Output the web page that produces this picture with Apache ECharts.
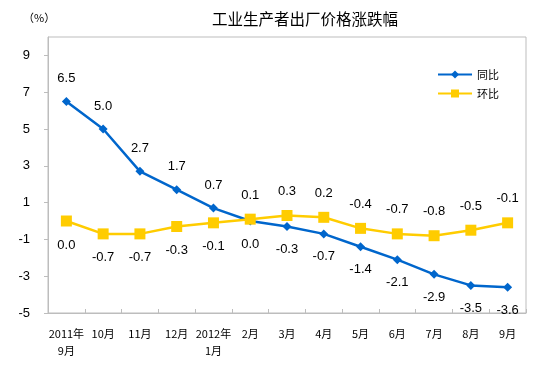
<!DOCTYPE html>
<html><head><meta charset="utf-8">
<script src="https://cdn.jsdelivr.net/npm/echarts@6/dist/echarts.min.js"></script>
<style>html,body{margin:0;padding:0;background:#fff}#c{width:554px;height:372px}</style>
</head><body><div id="c"></div>
<script>
const categories = ['2011年\n9月','10月','11月','12月','2012年\n1月','2月','3月','4月','5月','6月','7月','8月','9月'];
const yoy = [6.5, 5.0, 2.7, 1.7, 0.7, 0.0, -0.3, -0.7, -1.4, -2.1, -2.9, -3.5, -3.6];
const mom = [0.0, -0.7, -0.7, -0.3, -0.1, 0.1, 0.3, 0.2, -0.4, -0.7, -0.8, -0.5, -0.1];
const yoyAbove = [true, true, true, true, true, false, false, false, false, false, false, false, false];

const font = 'Liberation Sans, Arial, "Noto Sans CJK SC", sans-serif';
const chart = echarts.init(document.getElementById('c'), null, {renderer: 'canvas'});
chart.setOption({
  animation: false,
  backgroundColor: '#fff',
  textStyle: {fontFamily: font},
  title: [
    {text: '工业生产者出厂价格涨跌幅', left: 207, top: 6,
     textStyle: {fontSize: 15.5, fontWeight: 'normal', color: '#000', fontFamily: '"Noto Sans CJK SC", sans-serif'}},
    {text: '（%）', left: 18, top: 7,
     textStyle: {fontSize: 11, fontWeight: 'normal', color: '#000', fontFamily: '"Noto Sans CJK SC", sans-serif'}}
  ],
  legend: {
    orient: 'vertical', right: 50, top: 64, itemGap: 8, itemWidth: 34, itemHeight: 10,
    textStyle: {fontSize: 11, color: '#000', fontFamily: '"Noto Sans CJK SC", sans-serif'},
    data: ['同比', '环比']
  },
  grid: {left: 48, right: 28, top: 37, bottom: 59, show: true, borderColor: '#bdbdbd', borderWidth: 1, containLabel: false},
  xAxis: {
    type: 'category', data: categories, boundaryGap: true,
    axisLine: {onZero: false, lineStyle: {color: '#bdbdbd'}},
    axisTick: {show: true, inside: true, length: 4, lineStyle: {color: '#bdbdbd'}},
    axisLabel: {color: '#000', fontSize: 11, margin: 12, interval: 0, lineHeight: 17, fontFamily: '"Noto Sans CJK SC", sans-serif'}
  },
  yAxis: {
    type: 'value', min: -5, max: 10, interval: 2,
    axisLine: {show: true, lineStyle: {color: '#bdbdbd'}},
    axisTick: {show: true, length: 4, lineStyle: {color: '#bdbdbd'}},
    splitLine: {show: false},
    axisLabel: {color: '#000', fontSize: 13, margin: 18, showMaxLabel: false, fontFamily: font}
  },
  series: [
    {
      name: '同比', type: 'line', data: yoy.map((v, i) => ({value: v, label: {position: yoyAbove[i] ? 'top' : 'bottom'}})),
      symbol: 'diamond', symbolSize: 9, color: '#0066CC',
      lineStyle: {width: 2.5, color: '#0066CC'}, itemStyle: {color: '#0066CC'},
      label: {show: true, distance: 12, color: '#000', fontSize: 13, fontFamily: font, formatter: p => p.value.toFixed(1)}
    },
    {
      name: '环比', type: 'line', data: mom.map((v, i) => ({value: v, label: {position: yoyAbove[i] ? 'bottom' : 'top'}})),
      symbol: 'rect', symbolSize: 11, color: '#FFCC00',
      lineStyle: {width: 2.5, color: '#FFCC00'}, itemStyle: {color: '#FFCC00'},
      label: {show: true, distance: 12, color: '#000', fontSize: 13, fontFamily: font, formatter: p => p.value.toFixed(1)}
    }
  ]
});
</script></body></html>
